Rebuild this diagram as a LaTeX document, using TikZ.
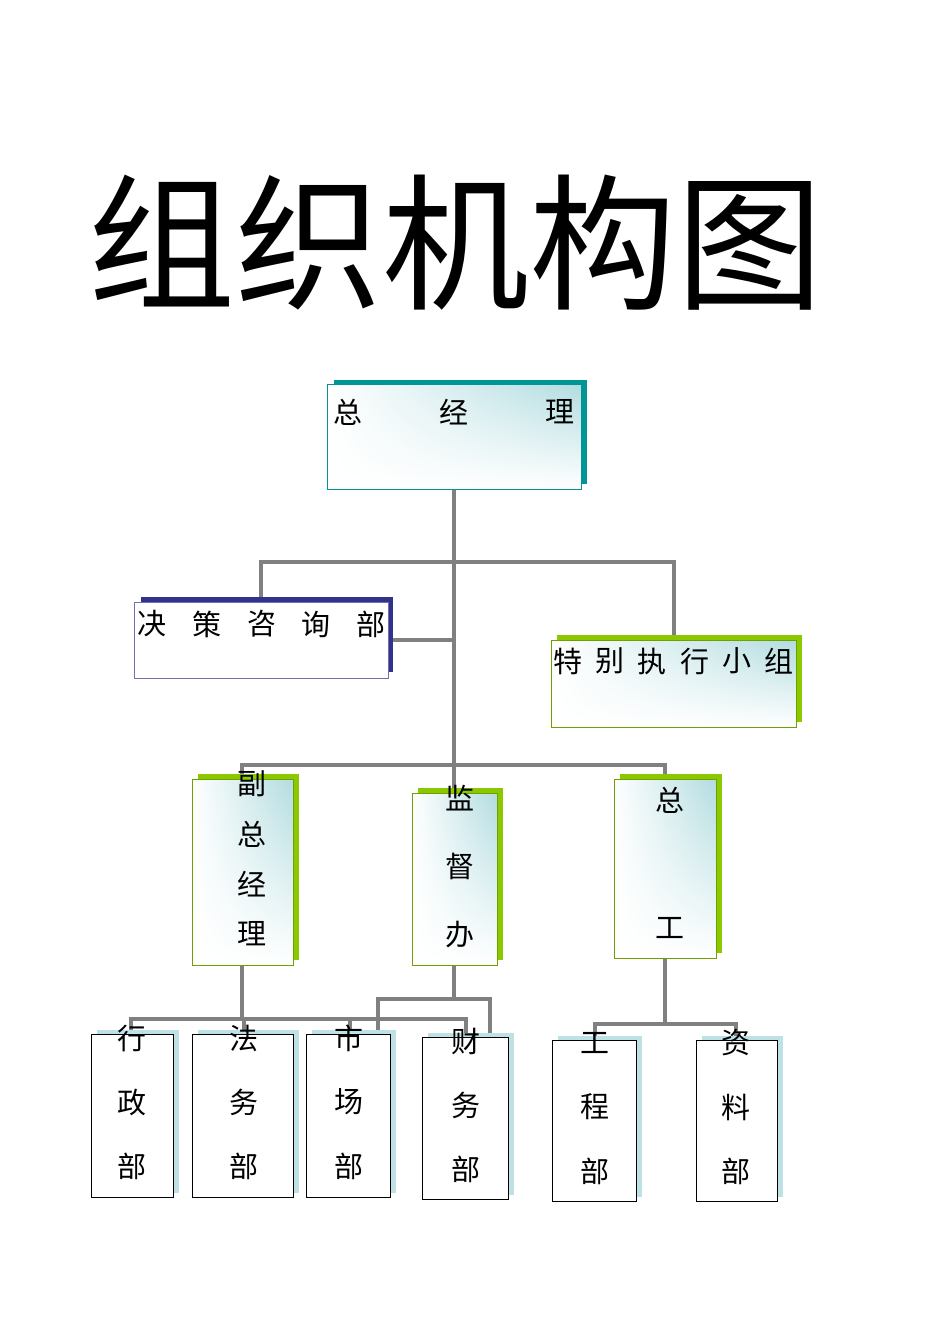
\documentclass[tikz,border=0pt]{standalone}
\usepackage{fontspec}
\setmainfont{Noto Sans CJK SC}
\usetikzlibrary{shadings}
\definecolor{teal1}{RGB}{0,150,150}
\definecolor{navy1}{RGB}{50,50,140}
\definecolor{green1}{RGB}{140,200,0}
\definecolor{lblue}{RGB}{190,225,230}
\definecolor{shadec}{RGB}{178,220,224}
\definecolor{connc}{RGB}{128,128,128}
\begin{document}
\begin{tikzpicture}[x=1pt,y=-1pt,
  conn/.style={draw=connc,line width=4pt},
  lbl/.style={font=\fontsize{29}{29}\selectfont,inner sep=0pt},
  mainshade/.style={upper right=shadec,lower left=white,upper left=white,lower right=white},
  whitebox/.style={draw=black,fill=white,line width=1pt}]
\useasboundingbox (0,0) rectangle (950,1344);
\node[inner sep=0pt,anchor=base west,font=\fontsize{147}{147}\selectfont] (title) at (88,298) {组织机构图};
% connectors
\draw[conn] (454,489) -- (454,765);
\draw[conn] (261,597) -- (261,562) -- (674,562) -- (674,635);
\draw[conn] (388,640) -- (454,640);
\draw[conn] (242,774) -- (242,765) -- (665,765) -- (665,774);
\draw[conn] (454,765) -- (454,789);
\draw[conn] (242,965) -- (242,1019);
\draw[conn] (131,1030) -- (131,1019) -- (466,1019) -- (466,1033);
\draw[conn] (244,1019) -- (244,1030);
\draw[conn] (350,1019) -- (350,1030);
\draw[conn] (454,965) -- (454,999);
\draw[conn] (378,1032) -- (378,999) -- (490,999) -- (490,1034);
\draw[conn] (665,958) -- (665,1024);
\draw[conn] (595,1036) -- (595,1024) -- (736,1024) -- (736,1036);
% boxes
\fill[teal1] (334,380) rectangle (587,484);
\shade[mainshade] (327,384) rectangle (581,489);
\draw[teal1,line width=1pt] (327,384) rectangle (581,489);
\fill[navy1] (141,597) rectangle (393,672);
\path[draw=navy1!70,fill=white,line width=1pt] (134,602) rectangle (388,678);
\foreach \a/\b/\c/\d in {551/640/796/727,192/779/293/965,412/793/497/965,614/779/716/958}{
  \fill[green1] (\a+6,\b-5) rectangle (\c+6,\d-5);
  \shade[mainshade] (\a,\b) rectangle (\c,\d);
  \draw[green1!80!black,line width=1pt] (\a,\b) rectangle (\c,\d);
}
\foreach \a/\b/\c/\d in {91/1034/173/1197,192/1034/293/1197,306/1034/390/1197,422/1037/508/1199,552/1040/636/1201,696/1040/777/1201}{
  \fill[lblue] (\a+6,\b-4) rectangle (\c+6,\d-4);
  \path[whitebox] (\a,\b) rectangle (\c,\d);
}
% labels
\foreach \t/\x in {总/348,经/454,理/560} \node[lbl] at (\x,412) {\t};
\foreach \t/\x in {决/152,策/207,咨/262,询/316,部/371} \node[lbl] at (\x,624) {\t};
\foreach \t/\x in {特/568,别/610,执/652,行/695,小/737,组/779} \node[lbl] at (\x,661) {\t};
\foreach \t/\y in {副/784,总/834,经/884,理/934} \node[lbl] at (252,\y) {\t};
\foreach \t/\y in {监/798,督/866,办/935} \node[lbl] at (460,\y) {\t};
\foreach \t/\y in {总/800,工/928} \node[lbl] at (670,\y) {\t};
\foreach \t/\y in {行/1038,政/1102,部/1166} \node[lbl] at (132,\y) {\t};
\foreach \t/\y in {法/1038,务/1102,部/1166} \node[lbl] at (244,\y) {\t};
\foreach \t/\y in {市/1038,场/1102,部/1166} \node[lbl] at (349,\y) {\t};
\foreach \t/\y in {财/1041,务/1105,部/1169} \node[lbl] at (466,\y) {\t};
\foreach \t/\y in {工/1043,程/1107,部/1171} \node[lbl] at (595,\y) {\t};
\foreach \t/\y in {资/1043,料/1107,部/1171} \node[lbl] at (736,\y) {\t};
\end{tikzpicture}
\end{document}
